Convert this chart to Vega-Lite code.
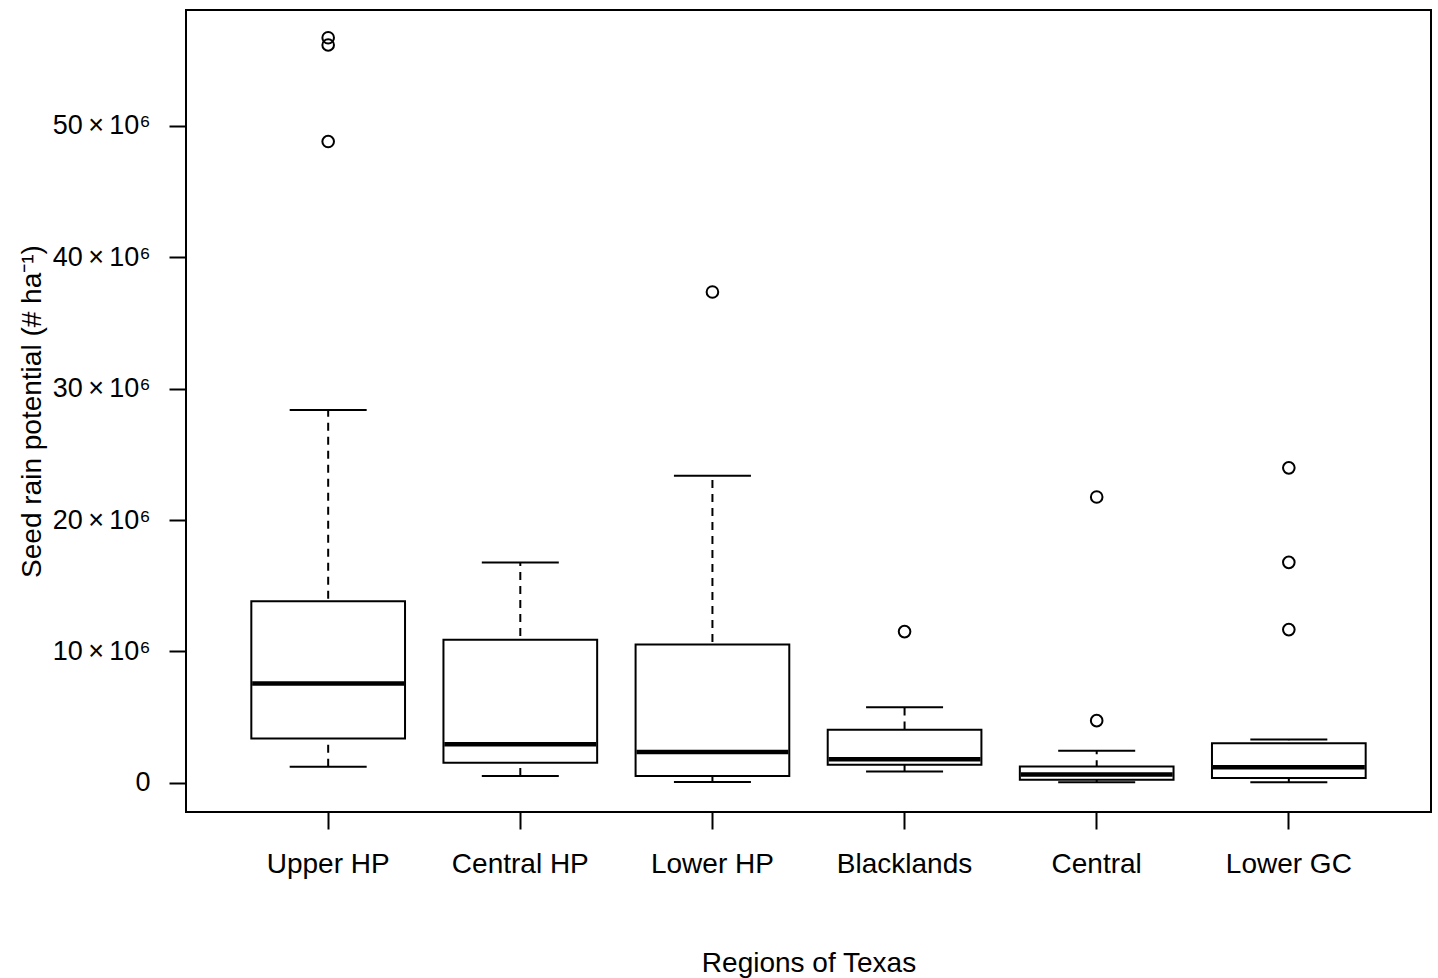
{
  "$schema": "https://vega.github.io/schema/vega-lite/v6.json",
  "autosize": {"type": "none"},
  "width": 1245,
  "height": 802,
  "padding": {"left": 186, "top": 10, "right": 7, "bottom": 166},
  "background": "white",
  "config": {
    "view": {"stroke": "black", "strokeWidth": 2},
    "font": "Liberation Sans",
    "axis": {
      "domain": false,
      "grid": false,
      "tickColor": "black",
      "tickWidth": 2,
      "tickSize": 17,
      "labelFont": "Liberation Sans",
      "labelFontSize": 27,
      "labelColor": "black",
      "titleFont": "Liberation Sans",
      "titleFontSize": 28,
      "titleFontWeight": "normal",
      "titleColor": "black"
    }
  },
  "datasets": {
    "boxes": [
      {"region": "Upper HP", "lower": 1230000, "q1": 3380000, "median": 7560000, "q3": 13810000, "upper": 28380000},
      {"region": "Central HP", "lower": 520000, "q1": 1530000, "median": 2940000, "q3": 10890000, "upper": 16760000},
      {"region": "Lower HP", "lower": 60000, "q1": 520000, "median": 2340000, "q3": 10520000, "upper": 23370000},
      {"region": "Blacklands", "lower": 860000, "q1": 1370000, "median": 1800000, "q3": 4030000, "upper": 5750000},
      {"region": "Central", "lower": 50000, "q1": 230000, "median": 630000, "q3": 1240000, "upper": 2450000},
      {"region": "Lower GC", "lower": 50000, "q1": 360000, "median": 1190000, "q3": 3020000, "upper": 3290000}
    ],
    "outliers": [
      {"region": "Upper HP", "value": 56700000},
      {"region": "Upper HP", "value": 56150000},
      {"region": "Upper HP", "value": 48800000},
      {"region": "Lower HP", "value": 37350000},
      {"region": "Blacklands", "value": 11510000},
      {"region": "Central", "value": 4730000},
      {"region": "Central", "value": 21750000},
      {"region": "Lower GC", "value": 11660000},
      {"region": "Lower GC", "value": 16780000},
      {"region": "Lower GC", "value": 23970000}
    ]
  },
  "encoding": {
    "x": {
      "field": "region",
      "type": "nominal",
      "sort": ["Upper HP", "Central HP", "Lower HP", "Blacklands", "Central", "Lower GC"],
      "scale": {"paddingInner": 0.2, "paddingOuter": 0.34},
      "axis": {
        "title": "Regions of Texas",
        "labelAngle": 0,
        "labelFontSize": 28,
        "labelPadding": 21,
        "titleBaseline": "alphabetic",
        "titleY": 159
      }
    }
  },
  "layer": [
    {
      "data": {"name": "boxes"},
      "mark": {"type": "rule", "color": "black", "strokeWidth": 2, "strokeDash": [8, 6], "opacity": 1},
      "encoding": {
        "y": {
          "field": "lower",
          "type": "quantitative",
          "scale": {"domain": [-2220000, 58810000], "nice": false, "zero": false},
          "axis": {
            "title": "Seed rain potential (# ha⁻¹)",
            "values": [0, 10000000, 20000000, 30000000, 40000000, 50000000],
            "labelExpr": "datum.value == 0 ? '0' : format(datum.value / 1000000, 'd') + '\u2009×\u200910⁶'",
            "labelPadding": 19,
            "titleBaseline": "alphabetic",
            "titleX": -146
          }
        },
        "y2": {"field": "upper"}
      }
    },
    {
      "data": {"name": "boxes"},
      "mark": {"type": "tick", "color": "black", "thickness": 2, "size": 77, "opacity": 1},
      "encoding": {"y": {"field": "upper", "type": "quantitative"}}
    },
    {
      "data": {"name": "boxes"},
      "mark": {"type": "tick", "color": "black", "thickness": 2, "size": 77, "opacity": 1},
      "encoding": {"y": {"field": "lower", "type": "quantitative"}}
    },
    {
      "data": {"name": "boxes"},
      "mark": {"type": "bar", "fill": "white", "stroke": "black", "strokeWidth": 2, "opacity": 1},
      "encoding": {
        "y": {"field": "q1", "type": "quantitative"},
        "y2": {"field": "q3"}
      }
    },
    {
      "data": {"name": "boxes"},
      "mark": {"type": "tick", "color": "black", "thickness": 4.5, "size": 152, "opacity": 1},
      "encoding": {"y": {"field": "median", "type": "quantitative"}}
    },
    {
      "data": {"name": "outliers"},
      "mark": {"type": "point", "shape": "circle", "filled": false, "color": "black", "strokeWidth": 2, "size": 135, "opacity": 1},
      "encoding": {"y": {"field": "value", "type": "quantitative"}}
    }
  ]
}
